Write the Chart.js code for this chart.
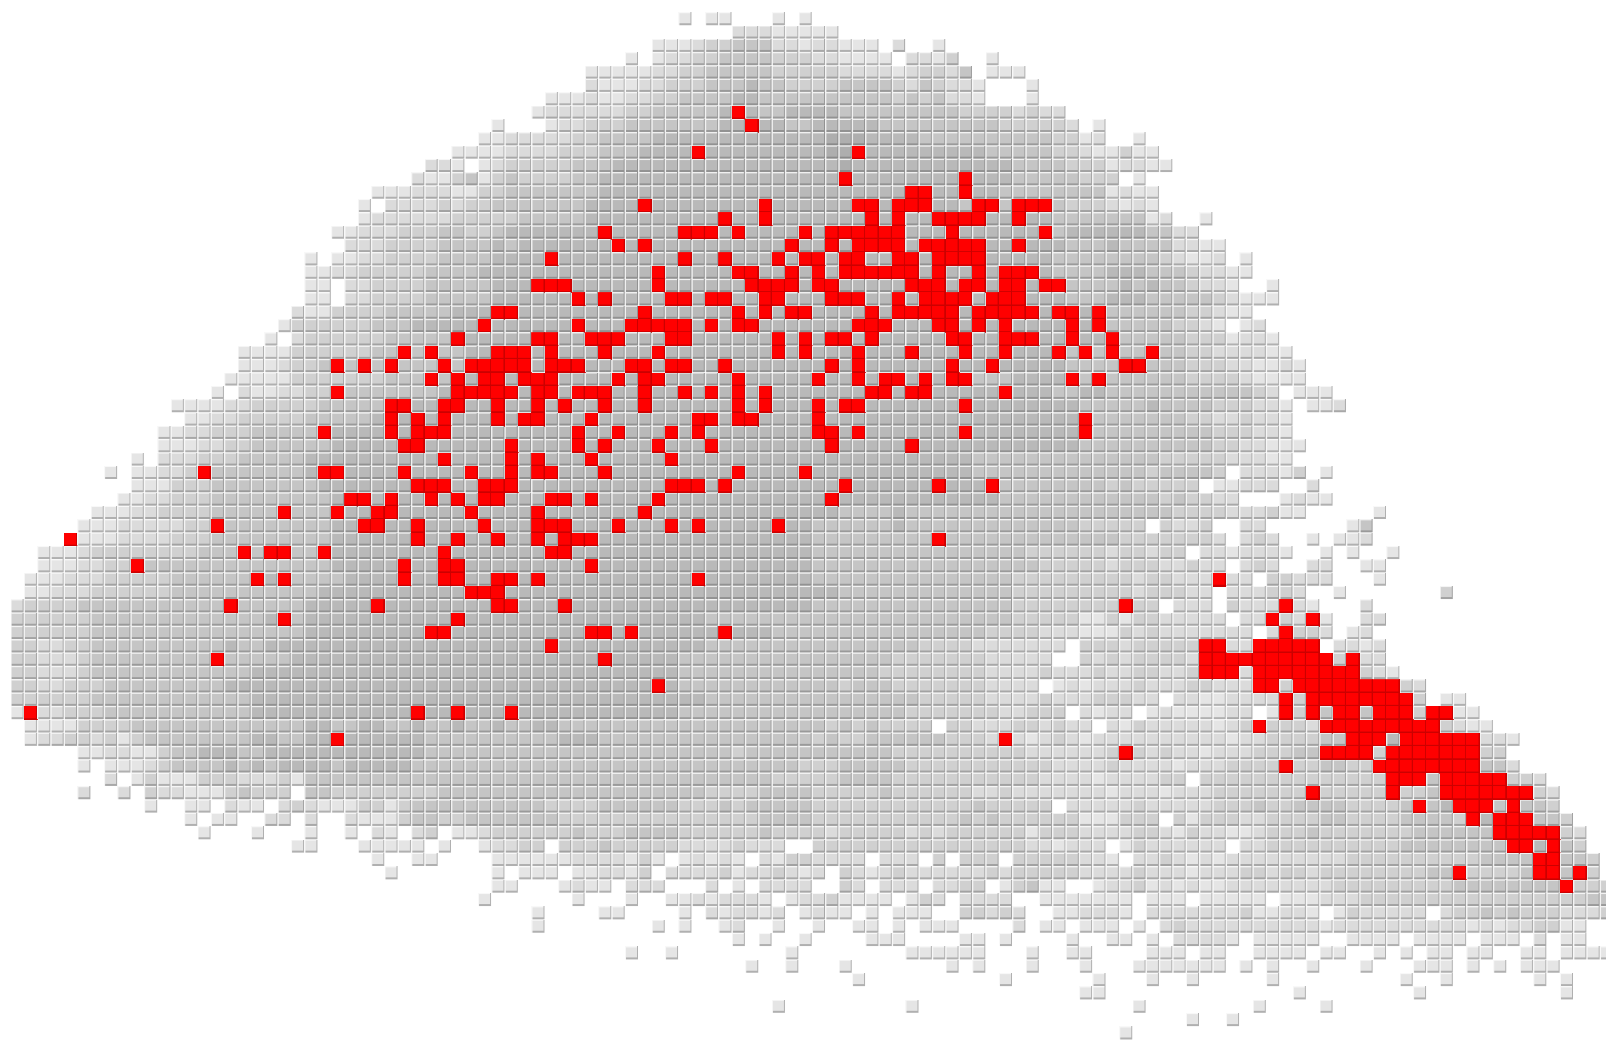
<!DOCTYPE html>
<html lang="en">
<head>
<meta charset="UTF-8">
<title>Grid map</title>
<script src="https://cdn.jsdelivr.net/npm/chart.js@4.4.1/dist/chart.umd.min.js"></script>
<style>
  * { margin: 0; padding: 0; }
  html, body { background: #fff; overflow: hidden; width: 1606px; height: 1042px; }
  #map { display: block; }
</style>
</head>
<body>
<canvas id="map" width="1620" height="1042"></canvas>
<script>
// one string per row, ten columns per group, "-" is a group with nothing in it
// . empty, 1-6 grey shade (light to dark), # red cell
const cellRows = [
"- - - - - 1.11...1.1",
"- - - - - ....222111 11........",
"- - - - ........11 1233444221 22111.2..1",
"- - - - ......1.12 2334444333 221111.221 3..1......",
"- - - - ...1111122 3344444333 3322221233 24.111....",
"- - - - ...2111223 3344454433 3344443243 221...1...",
"- - - - 1112112233 4444554444 4444443434 221...1...",
"- - - .........1 2222223344 4445#54455 5544444444 433332322.",
"- - - ......1... 1223334444 44455#5544 5555544444 4444333332 .1........",
"- - - .....11222 2233444455 5555555555 5666555544 4444444433 12..1.....",
"- - - ...1111222 2333444555 5#55555555 566#555555 5554444433 211311....",
"- - - .221.12333 3344455555 5555555555 5565555555 5555544443 3312211...",
"- - - 2113413433 3344555555 5555555555 55#5555555 5#55544444 333.1.....",
"- - .......111 2221133444 4444555555 5555555555 5555555##5 5#55444444 441211....",
"- - ......1.22 2232334444 4445555#55 555555#555 555##5###5 54##4###43 332121....",
"- - ......1222 2223333344 4445555555 555#55#555 5555#5#55# ###55#5544 4444412..1",
"- - ....112223 3344334555 5555#55555 ###5#5555# 5######555 #555555#45 555554422.",
"- - .....22233 3344445455 55555#5#55 55555555#5 5#5####5## ###55#5554 4454444221 1.........",
"- - ..1.112233 3344445555 #555555555 #55#555#5# #5##55##5# ###5555544 4444443211 2.1.......",
"- - ..11223333 3444455555 55555555#5 5555##55#5 #5######5# 55#5###544 4455544432 211.......",
"- - ..11.22333 344444555# ##555555#5 55555####5 ##55555### 5##5##5##4 4445454432 21..1.....",
"- - ..11.22333 3444445555 55#5#5555# #5##55##55 5###55#5## ##5###5554 4455544444 32111.....",
"- - .211333344 444555##55 5555555#55 5555#5#5## 5555#5#### #5#####5## 5#44444433 211.......",
"- - 1333333444 55555#5555 55#555#### #5#5##5555 555###555# #5#5#5555# 5#44444332 1.12......",
"- .........1 .233333344 444#55555# #55###555# #555555#5# 5##5#55555 ##55###55# 55#4444433 31221.....",
"- .......111 133333344# 4#4455###5 #555#555#5 5555555#5# 555#555#55 5#55#555#4 #4#44#4433 222211....",
"- .......111 2334#4#4#4 44#4#####5 ###555##5# #55#555555 5#5#555555 #55#555554 444##44433 3221121...",
"- ......1111 1333333344 4#4#5##5## #5555#5##5 5555#55555 #55#5##5#5 ##4445555# 4#44444433 3321111...",
"- .....1.211 2233#44444 445#####5# #5###55#55 #5#5#5#555 5555##5##5 5555#55544 5544444444 44432.111.",
"- ..11112233 33344444## 55##55#55# 5#55#55#55 5555#5#555 #5##555555 5#55555555 4444454444 333221.112",
"- ...1122333 33444445#5 #5#555#5## 555#555555 5##5##5555 #555555555 5555555555 #444444433 223221....",
"- .112233344 444#5555#5 ###5555555 55#55#555# 5#55555555 ##5#555555 5#55555555 #444444444 333221....",
"- .111223344 444455555# #555555#55 55#5#555#5 55#5555555 5#55555#55 5555555555 4444444444 3322111...",
".........1 .222333444 4455555555 55#5555#5# 555#55555# 5555555555 5555555555 5544444444 4444443333 322211....",
".......1.1 1223#44444 445##5555# 5555#55#5# #555#55555 5555#5555# 5555555555 5544444444 4444434444 3.22213.1.",
".........1 1133344444 4445555555 ###55###55 555555555# ##5#555555 55#555555# 555#444444 443433333. 11222..2..",
"........11 2233344444 44445##5#5 5#5#5##555 ##5#5555#5 5555555555 5#55555555 5555444444 4444443433 22...1211.",
"......1112 2333344444 #444#55##5 5555#5555# 5555555#55 5555555555 5544445444 4444444444 4444444333 3222311... ..1.......",
".....11122 22233#4444 444455##55 #5555#555# ##555#555# 5#55555#55 4444445444 4444444444 33333.3223 ..22...... 14........",
"....#11122 2233344444 4444555555 #55#55#55# 5###555555 5555555555 444444444# 4444444444 4443333333 2.232..1.1 12........",
"..11123333 3333444#4# #44#555555 55#5555555 ##55555555 5555555555 4444444444 4444443333 33233233.2 212221..1. 1..1......",
"..1112233# 4444444444 444455555# 55##555555 555#555555 5555555555 4444444444 4444444333 3323332232 2.232..22. .11.......",
".111222333 33444444#5 #44445555# 55##55##5# 5555555555 5#55555555 4444444444 4444433333 3333233222 #22.33222. ..1.......",
".112223333 3344444444 4445555555 5555###555 5555555555 5555555555 5544444444 4444433333 3333233322 .222332..1 .......3..",
"2333344444 444444#444 4455555#55 555555##55 5#55555555 5555555555 4444444444 4444433333 333#33.222 .3222#21.. .2........",
"3333334444 4444444445 #455555555 555#555555 5555555555 5544444444 4444444444 4444433333 1131332222 2.22#32#1. .22.......",
"3333334444 4444444444 4455555555 5##5555555 555##5#555 555#555444 4444444444 4443333222 1113232222 222.2#332. 12........",
"3322334444 4444445445 5555555555 5555555555 #555555555 5544444444 4444444433 332222222. 333233333# #22#####.2 212.......",
"3322234444 44444#4444 4555555555 5555555555 5555#55555 4444444444 4444443333 33322222.. 323233332# #########3 #22.......",
"3322234444 4444444455 5555555555 5555555555 5555555555 4444444444 4444433333 3332222322 232233223# ##2####### #321......",
"3322333444 4444445555 5555555555 5555555555 55555555#5 4444444444 4434443333 3332222.12 1222322233 222##3#### ####32....",
"3333334444 4444444455 5555555555 5555555555 5555555555 5544444444 4444444433 3332222322 233322.221 12222#3### #####3.11.",
"1#22333444 4444444455 5555555555 #55#555#55 5555555555 4444444444 4444444333 333322333. 2122.12111 122.1#3#4# #4###3##11",
".111133334 4444444444 4455445544 5445445445 5444444444 4444444444 434343333. 3322233232 2.21322222 123#3332## #######321 1.........",
".122332313 4444444455 4455#55555 5444444444 4555444444 4444444444 3433444444 3332#21232 1222222222 2122333344 ###5###### 221.......",
".....11221 1344555445 5555555555 5444444444 4444444444 4444344444 4444443333 3333332222 223#323221 22233344## ##3####### 33........",
".....1.111 2344445454 5555455555 4444444444 4444444444 4444444443 3344444333 3333333322 2232222122 23333#3344 33######## 442.......",
".......2.1 3111333222 3144444444 4444444444 4444444444 4444444333 3344443333 3333333222 21222233.3 3333333333 333###4### ##332.....",
".....2..2. 3221113433 3.44333333 3344444444 4444444444 4433334444 3333343333 3322322222 2212221222 3333333#33 333#334### ####32....",
"- 1..11.211. 2321113313 4444444444 3333444444 3334344444 3333333333 33433333.2 2222322222 3334334444 33334#45## #4#443....",
"- ...1.11..2 2.2..21113 4433444444 4333333333 3333334444 3333333333 3434333333 111333.313 3322333344 333344443# 5###443...",
"- ....1...1. ..1..1.21. 23.1123333 3343334444 3333334333 3233333232 3333331333 2222332132 2112333433 3333344444 4#####32..",
"- - .11...1111 1.1..12233 .333433333 22223222.. 3333333333 3333332212 22.1322222 2.22333333 3333444444 44##5#43..",
"- - .......1.. 11....1111 112222131. 12121.2133 2222.222.3 .333.33333 221.223212 1222222222 3333333333 4444##443.",
"- - ........1. ......1.11 1.112213.2 2223122321 2.32123222 2223233333 2222322212 2233233233 33333344#3 3334##4#3.",
"- - - ......11.. .1211.222. ..2.1.2222 ..32.222.2 233.13411. .122312121 1222222223 3333333344 444444#333",
"- - - .....1.... ..1...1..1 1212221.12 231111.132 .2222..111 1111.111.1 1111.11122 2333333333 3333333344",
"- - - .........1 ....11.... 1.212212.1 211.1.111. .33232..11 2221.22222 22311221.1 322222.233 4343332223",
"- - - .........1 ........1. 1..12..1.. 1..11.1.11 1....2.11. 111.1.2322 2222222212 2222222221 21223311..",
"- - - - - ....1.1..1 ....111... .11.1....1 ..11.1.222 21.11111.. 1111.1111. 111.2.11..",
"- - - - ......1..1 ........1. .......111 111...1..1 1....111.1 1..1111.11 ..1.1.11.1 1..11.1111",
"- - - - - .....1..1. ..1....... 1.1...1... 1...111111 1.1.1..1.. .1...111.1 .1.111....",
"- - - - - - ...1...... ....1..... .1...1..1. ....1..... ....1..1.. ....1.1...",
"- - - - - - - - 11........ ......1... .....1.... ......1...",
"- - - - - .......1.. .......1.. - ....1..... ...1....1.",
"- - - - - - - - ........1. .1........",
"- - - - - - - - ...1......"
];
const shadeColors = { 1: "#e5e5e5", 2: "#dbdbdb", 3: "#d0d0d0", 4: "#c5c5c5", 5: "#b9b9b9", 6: "#aeaeae" };

// split the rows into points per dataset
const greyPoints = [];
const redPoints = [];
cellRows.forEach(function(line, row) {
    line.split(" ").forEach(function(group, g) {
        if (group === "-") return;
        for (let i = 0; i < group.length; i++) {
            const c = group[i];
            if (c === ".") continue;
            const p = { x: g * 10 + i, y: row };
            if (c === "#") redPoints.push(p);
            else { p.shade = c; greyPoints.push(p); }
        }
    });
});

// little bevelled tile used as point style
function makeTile(face, edge, high) {
    const cv = document.createElement("canvas");
    cv.width = 14;
    cv.height = 14;
    const c = cv.getContext("2d");
    c.fillStyle = high;
    c.fillRect(0, 0, 13, 13);
    c.fillStyle = face;
    c.fillRect(1, 1, 11, 10);
    c.fillStyle = edge;
    c.fillRect(1, 11, 11, 2);
    c.fillRect(12, 0, 1, 13);
    return cv;
}
function makeRedTile() {
    const cv = document.createElement("canvas");
    cv.width = 14;
    cv.height = 14;
    const c = cv.getContext("2d");
    c.fillStyle = "#ff0000";
    c.fillRect(0, 0, 14, 14);
    c.fillStyle = "#cc0000";
    c.fillRect(0, 12, 14, 2);
    c.fillRect(12, 0, 2, 12);
    return cv;
}
const tiles = {
    1: makeTile(shadeColors[1], "#b0b0b0", "#f8f8f8"),
    2: makeTile(shadeColors[2], "#a8a8a8", "#f6f6f6"),
    3: makeTile(shadeColors[3], "#a2a2a2", "#f4f4f4"),
    4: makeTile(shadeColors[4], "#9a9a9a", "#f2f2f2"),
    5: makeTile(shadeColors[5], "#929292", "#f0f0f0"),
    6: makeTile(shadeColors[6], "#8a8a8a", "#eeeeee")
};
const redTile = makeRedTile();

new Chart(document.getElementById("map"), {
    type: "scatter",
    data: {
        datasets: [
            {
                data: greyPoints,
                pointRadius: 7,
                pointStyle: function(ctx) { return ctx.raw ? tiles[ctx.raw.shade] : tiles[1]; }
            },
            {
                data: redPoints,
                pointRadius: 7,
                pointStyle: redTile
            }
        ]
    },
    options: {
        responsive: false,
        animation: false,
        events: [],
        layout: { padding: 0, autoPadding: false },
        plugins: { legend: { display: false }, tooltip: { enabled: false }, title: { display: false } },
        scales: {
            x: { type: "linear", display: false, min: -1.315, max: 119.97 },
            y: { type: "linear", display: false, reverse: true, min: -1.439, max: 76.64 }
        }
    }
});
</script>
</body>
</html>
